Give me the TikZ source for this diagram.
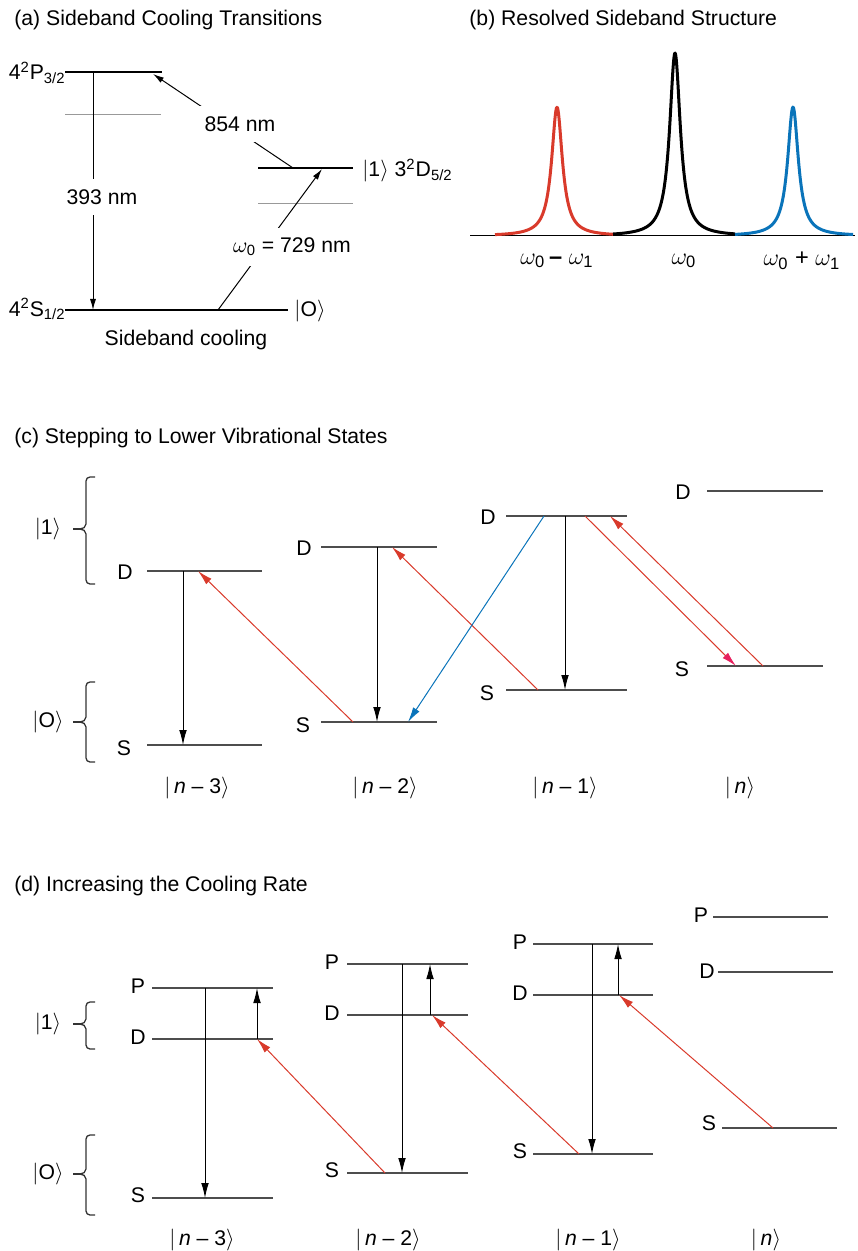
\documentclass[tikz,border=0pt]{standalone}
\usepackage{amsmath}
\usepackage{fontspec}
\setmainfont{Liberation Sans}
\usepackage{tikz}
\usetikzlibrary{positioning,arrows.meta,calc}
\definecolor{sbred}{HTML}{D93A2B}
\definecolor{sbblue}{HTML}{0A74BA}
\definecolor{sbpink}{HTML}{E8205E}
\definecolor{lvgray}{HTML}{4D4D4D}
\newcommand{\ketn}[1]{$|\,$\textit{n}#1$\rangle$}
% brace: top, tip, bottom, name, text
\newcommand{\lvlbrace}[5]{%
  \draw[brc] (95,#1) -- (90,#1) to[out=180,in=90] (86,#1+4) -- (86,#2-5)
    to[out=270,in=0] (80,#2) to[out=0,in=90] (86,#2+5) -- (86,#3-4)
    to[out=270,in=180] (90,#3) -- (95,#3);
  \draw[brc] (73,#2) -- (80,#2);
  \node (#4) at (48,#2) {#5};}

\begin{document}
\begin{tikzpicture}[x=0.5pt, y=-0.5pt,
    every node/.style={font=\fontsize{10.6}{12.7}\selectfont, inner sep=1pt},
    title/.style={anchor=base west},
    lvA/.style={line width=1pt},
    lvthin/.style={line width=0.4pt, black!40},
    level/.style={line width=0.75pt, lvgray},
    wl/.style={fill=white, inner sep=5pt},
    wlab/.style={font=\fontsize{11.8}{14}\selectfont},
    arrA/.style={-{Latex[length=5.5pt,width=3pt]}, line width=0.5pt},
    arr/.style={-{Latex[length=7.5pt,width=3.8pt]}, line width=0.5pt},
    redarr/.style={arr, sbred},
    bluearr/.style={arr, sbblue},
    peak/.style={line width=1.5pt, line join=round},
    brc/.style={line width=0.65pt, black!80},
  ]
\useasboundingbox (0,0) rectangle (857,1251);

% (a) sideband cooling transitions
\node[title] (ta) at (12,26) {(a) Sideband Cooling Transitions};
\coordinate (P32) at (65,72);
\coordinate (S12) at (65,310);
\coordinate (D52) at (258,168);
\draw[lvA] (P32) -- ++(97,0);
\draw[lvthin] (65,114) -- ++(96,0);
\draw[lvA] (D52) -- ++(95,0);
\draw[lvthin] (258,203) -- ++(95,0);
\draw[lvA] (S12) -- ++(223,0);
\node[anchor=base east, inner sep=0pt] (lP32) at (66,80) {4$^{\text{2}}$P$_{\text{3/2}}$};
\node[anchor=base east, inner sep=0pt] (lS12) at (66,316) {4$^{\text{2}}$S$_{\text{1/2}}$};
\node[anchor=base west, inner sep=0pt] (lD52) at (362,177) {$|$1$\rangle$ 3$^{\text{2}}$D$_{\text{5/2}}$};
\node (lO) at (310,311) {$|$O$\rangle$};
\node (lcool) at (186,340) {Sideband cooling};
\draw[arrA] ($(P32)+(28,0)$) -- ($(S12)+(28,0)$);
\draw[arrA] ($(D52)+(35,0)$) -- ($(P32)+(88,2)$);
\draw[arrA] ($(S12)+(153,0)$) -- ($(D52)+(64,1)$);
\node[wl] (l393) at (102,197) {393 nm};
\node[wl] (l854) at (240,124) {854 nm};
\node[wl] (l729) at (292,247) {$\omega_{\text{0}}$ = 729 nm};

% (b) resolved sideband structure
\node[title] (tb) at (467,26) {(b) Resolved Sideband Structure};
\coordinate (ax0) at (470,236);
\coordinate (ax1) at (855,236);
\draw[line width=0.5pt] (ax0) -- (ax1);
\draw[peak, sbred] plot[domain=495:613, samples=160, smooth] (\x,{236-129/(1+((\x-557)/6.5)^2)});
\draw[peak, black] plot[domain=613:735, samples=160, smooth] (\x,{236-183/(1+((\x-675)/6.5)^2)});
\draw[peak, sbblue] plot[domain=735:853, samples=160, smooth] (\x,{236-129/(1+((\x-793)/6.5)^2)});
\node[wlab] (wm) at (557,261) {$\omega_{\text{0}}$\,\textbf{–} $\omega_{\text{1}}$};
\node[wlab] (w0) at (684,261) {$\omega_{\text{0}}$};
\node[wlab] (wp) at (802,261) {$\omega_{\text{0}}$ + $\omega_{\text{1}}$};

% (c) stepping to lower vibrational states
\node[title] (tc) at (12,443) {(c) Stepping to Lower Vibrational States};
\lvlbrace{477}{529}{584}{k1c}{$|$1$\rangle$}
\lvlbrace{682}{722}{762}{k0c}{$|$O$\rangle$}
\foreach \nm/\x/\w/\yd/\ys/\lx in {c3/147/115/571/745/125, c2/321/116/547/722/304, c1/506/121/516/690/488, c0/707/116/491/666/683}{
  \coordinate (\nm D) at (\x,\yd);
  \coordinate (\nm S) at (\x,\ys);
  \draw[level] (\nm D) -- ++(\w,0);
  \draw[level] (\nm S) -- ++(\w,0);
  \node (\nm Dl) at (\lx,\yd+1) {D};
  \node (\nm Sl) at (\lx-1,\ys+3) {S};
}
\node (kc3) at (197,788) {\ketn{ – 3}};
\node (kc2) at (385,788) {\ketn{ – 2}};
\node (kc1) at (565,788) {\ketn{ – 1}};
\node (kc0) at (740,788) {\ketn{}};
\draw[arr] ($(c3D)+(36,0)$) -- ($(c3S)+(36,0)$);
\draw[arr] ($(c2D)+(56,0)$) -- ($(c2S)+(56,0)$);
\draw[arr] ($(c1D)+(59,0)$) -- ($(c1S)+(59,0)$);
\draw[redarr] ($(c2S)+(32,0)$) -- ($(c3D)+(51,0)$);
\draw[redarr] ($(c1S)+(32,0)$) -- ($(c2D)+(71,0)$);
\draw[bluearr] ($(c1D)+(38,0)$) -- ($(c2S)+(87,0)$);
\draw[redarr] ($(c0S)+(56,0)$) -- ($(c1D)+(104,0)$);
\draw[redarr, -{Latex[length=7.5pt,width=3.8pt,color=sbpink]}] ($(c1D)+(79,0)$) -- ($(c0S)+(29,0)$);

% (d) increasing the cooling rate
\node[title] (td) at (12,891) {(d) Increasing the Cooling Rate};
\lvlbrace{1002}{1024}{1049}{k1d}{$|$1$\rangle$}
\lvlbrace{1135}{1174}{1215}{k0d}{$|$O$\rangle$}
\foreach \nm/\x/\w/\yp/\yd/\ys/\lx in {d3/152/121/988/1039/1198/138, d2/347/121/964/1015/1173/332, d1/533/120/944/995/1154/520}{
  \coordinate (\nm P) at (\x,\yp);
  \coordinate (\nm D) at (\x,\yd);
  \coordinate (\nm S) at (\x,\ys);
  \draw[level] (\nm P) -- ++(\w,0);
  \draw[level] (\nm D) -- ++(\w,0);
  \draw[level] (\nm S) -- ++(\w,0);
  \node (\nm Pl) at (\lx,\yp-2) {P};
  \node (\nm Dl) at (\lx,\yd-2) {D};
  \node (\nm Sl) at (\lx,\ys-3) {S};
}
\coordinate (d0P) at (713,917);
\coordinate (d0D) at (718,972);
\coordinate (d0S) at (722,1128);
\draw[level] (d0P) -- ++(115,0);
\draw[level] (d0D) -- ++(115,0);
\draw[level] (d0S) -- ++(115,0);
\node (d0Pl) at (701,915) {P};
\node (d0Dl) at (707,971) {D};
\node (d0Sl) at (709,1123) {S};
\node (kd3) at (202,1240) {\ketn{ – 3}};
\node (kd2) at (388,1240) {\ketn{ – 2}};
\node (kd1) at (588,1240) {\ketn{ – 1}};
\node (kd0) at (766,1240) {\ketn{}};
\draw[arr] ($(d3P)+(53,0)$) -- ($(d3S)+(53,0)$);
\draw[arr] ($(d3D)+(105,0)$) -- ($(d3P)+(105,0)$);
\draw[arr] ($(d2P)+(55,0)$) -- ($(d2S)+(55,0)$);
\draw[arr] ($(d2D)+(83,0)$) -- ($(d2P)+(83,0)$);
\draw[arr] ($(d1P)+(59,0)$) -- ($(d1S)+(59,0)$);
\draw[arr] ($(d1D)+(85,0)$) -- ($(d1P)+(85,0)$);
\draw[redarr] ($(d2S)+(38,0)$) -- ($(d3D)+(105,0)$);
\draw[redarr] ($(d1S)+(46,0)$) -- ($(d2D)+(85,0)$);
\draw[redarr] ($(d0S)+(51,0)$) -- ($(d1D)+(86,0)$);
\end{tikzpicture}
\end{document}
